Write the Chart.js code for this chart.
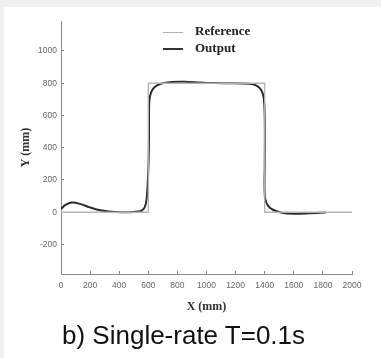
<!DOCTYPE html>
<html lang="en">
<head>
  <meta charset="UTF-8" />
  <title>Single-rate T=0.1s</title>
  <script src="https://cdn.jsdelivr.net/npm/chart.js"></script>
  <style>
    html, body {
      margin: 0;
      padding: 0;
      width: 381px;
      height: 358px;
      overflow: hidden;
      background: #f0f0f0;
    }
    .panel {
      position: absolute;
      left: 4px;
      top: 7px;
      right: 0;
      bottom: 0;
      background: #ffffff;
    }
    #chart {
      position: absolute;
      left: 0;
      top: 0;
    }
    .legend {
      position: absolute;
      left: 163px;
      top: 22px;
      font-family: 'Liberation Serif', 'Times New Roman', serif;
      font-weight: bold;
      font-size: 13px;
      color: #222;
    }
    .legend div {
      height: 17px;
      line-height: 17px;
      white-space: nowrap;
    }
    .legend span {
      display: inline-block;
      width: 20px;
      margin-right: 12px;
      vertical-align: middle;
    }
    .caption {
      position: absolute;
      left: 62px;
      top: 320px;
      font-family: 'Liberation Sans', Arial, sans-serif;
      font-size: 26px;
      line-height: 30px;
      color: #111;
      white-space: nowrap;
    }
  </style>
</head>
<body>
  <div class="panel"></div>
  <canvas id="chart" width="381" height="358"></canvas>
  <div class="legend">
    <div><span style="border-top: 1.5px solid #b0b0b0;"></span>Reference</div>
    <div><span style="border-top: 2px solid #333;"></span>Output</div>
  </div>
  <div class="caption">b) Single-rate T=0.1s</div>

  <script>
    // square reference path
    const refX = [0, 600, 600, 1400, 1400, 2000];
    const refY = [0, 0, 800, 800, 0, 0];

    // tracked output
    const outX = [0, 30, 75, 130, 200, 260, 330, 420, 500, 550, 575, 588, 596, 602, 605, 605, 607, 618, 642, 690, 760, 850, 950, 1050, 1150, 1250, 1310, 1350, 1378, 1394, 1400, 1401, 1400, 1399, 1404, 1425, 1460, 1520, 1600, 1700, 1820];
    const outY = [20, 45, 60, 52, 30, 14, 5, 0, 2, 8, 30, 80, 180, 320, 480, 600, 690, 740, 775, 798, 808, 809, 805, 801, 800, 799, 795, 782, 755, 705, 600, 430, 280, 150, 80, 38, 14, -3, -9, -7, -2];

    const xTicks = [0, 200, 400, 600, 800, 1000, 1200, 1400, 1600, 1800, 2000];
    const yTicks = [-200, 0, 200, 400, 600, 800, 1000];

    const pts = (xs, ys) => xs.map((x, i) => ({ x: x, y: ys[i] }));
    const plain = v => String(v);

    const tickFont = { family: "'Liberation Sans', Arial, sans-serif", size: 8.5 };
    const titleFont = { family: "'Liberation Serif', 'Times New Roman', serif", size: 12, weight: 'bold' };

    new Chart(document.getElementById('chart'), {
      type: 'line',
      data: {
        datasets: [
          {
            label: 'Reference',
            data: pts(refX, refY),
            borderColor: '#b4b4b4',
            borderWidth: 1.3,
            pointRadius: 0,
            tension: 0
          },
          {
            label: 'Output',
            data: pts(outX, outY),
            borderColor: '#2b2b2b',
            borderWidth: 2,
            pointRadius: 0,
            tension: 0.3
          }
        ]
      },
      options: {
        responsive: false,
        animation: false,
        layout: { padding: { left: 0, top: 21, right: 29, bottom: 0 } },
        plugins: {
          legend: { display: false },
          tooltip: { enabled: false }
        },
        scales: {
          x: {
            type: 'linear',
            min: 0,
            max: 2000,
            afterBuildTicks: s => { s.ticks = xTicks.map(v => ({ value: v })); },
            afterFit: s => { s.height = 84; },
            grid: { drawOnChartArea: false, tickLength: -3, color: '#888' },
            border: { color: '#8a8a8a', width: 1 },
            ticks: { color: '#666', font: tickFont, padding: 10, maxRotation: 0, autoSkip: false, callback: plain },
            title: {
              display: true,
              text: 'X (mm)',
              color: '#333',
              font: titleFont,
              padding: { top: 0, bottom: 44 }
            }
          },
          y: {
            type: 'linear',
            min: -383,
            max: 1186,
            afterBuildTicks: s => { s.ticks = yTicks.map(v => ({ value: v })); },
            afterFit: s => { s.width = 61; },
            grid: { drawOnChartArea: false, tickLength: -3, color: '#888' },
            border: { color: '#8a8a8a', width: 1 },
            ticks: { color: '#666', font: tickFont, padding: 7, callback: plain },
            title: {
              display: true,
              text: 'Y (mm)',
              color: '#333',
              font: titleFont,
              padding: { top: 19, bottom: 0 }
            }
          }
        }
      }
    });
  </script>
</body>
</html>
